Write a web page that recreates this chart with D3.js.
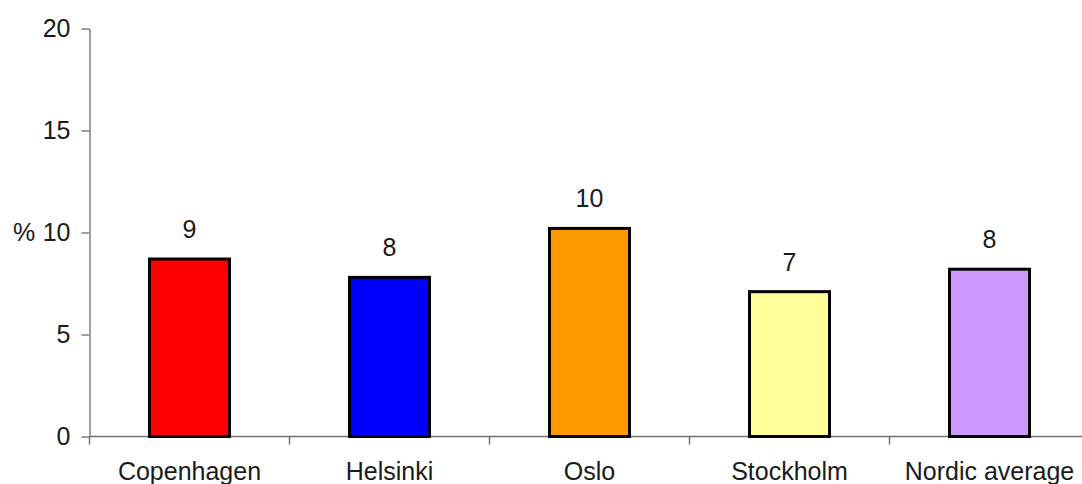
<!DOCTYPE html>
<html>
<head>
<meta charset="utf-8">
<script src="https://cdn.jsdelivr.net/npm/d3@7"></script>
<style>
  body { margin: 0; background: #fff; }
  text { font-family: "Liberation Sans", Arial, sans-serif; fill: #1a1a1a; }
</style>
</head>
<body>
<div id="chart"></div>
<script>
// Share (%) per city, bar chart with rounded value labels

const cities = ["Copenhagen", "Helsinki", "Oslo", "Stockholm", "Nordic average"];
const values = [8.7, 7.8, 10.2, 7.1, 8.2];
const colors = ["#ff0000", "#0000ff", "#ff9900", "#ffff99", "#cc99ff"];
const yTicks = [0, 5, 10, 15, 20];

const W = 1082, H = 484;
const fontSize = "25px";
// plot area edges (window.top is reserved, so keep them in an object)
const plot = { left: 89.5, right: 1089.5, top: 28.5, bottom: 436.5 };

const svg = d3.select("#chart")
    .append("svg")
    .attr("width", W)
    .attr("height", H);

// Scales
const x = d3.scaleBand()
    .domain(cities)
    .range([plot.left, plot.right])
    .paddingInner(0.6)
    .paddingOuter(0.3);

const y = d3.scaleLinear()
    .domain([0, 20])
    .range([plot.bottom, plot.top]);

// Y axis
const yAxis = svg.append("g")
    .attr("transform", `translate(${plot.left},0)`)
    .call(d3.axisLeft(y).tickValues(yTicks).tickSize(8).tickPadding(11).tickSizeOuter(0));

yAxis.select(".domain").attr("stroke", "#808080").attr("stroke-width", 1.5);
yAxis.selectAll(".tick line").attr("stroke", "#808080").attr("stroke-width", 1.5);
yAxis.selectAll(".tick text")
    .style("font-size", fontSize)
    .style("font-family", "'Liberation Sans', Arial, sans-serif")
    .attr("fill", "#1a1a1a");

// "%" title next to the 10 tick
svg.append("text")
    .attr("x", 13)
    .attr("y", y(10))
    .attr("dy", "0.32em")
    .style("font-size", fontSize)
    .text("%");

// X axis line
svg.append("line")
    .attr("x1", plot.left)
    .attr("x2", plot.right)
    .attr("y1", y(0))
    .attr("y2", y(0))
    .attr("stroke", "#707070")
    .attr("stroke-width", 1.5);

// Category boundary ticks
const gap = x.step() - x.bandwidth();
const boundaries = cities.map(c => x(c) - gap / 2)
    .concat([x(cities[cities.length - 1]) + x.bandwidth() + gap / 2]);

svg.append("g")
    .selectAll("line")
    .data(boundaries)
    .enter().append("line")
    .attr("x1", d => d)
    .attr("x2", d => d)
    .attr("y1", y(0))
    .attr("y2", y(0) + 8)
    .attr("stroke", "#707070")
    .attr("stroke-width", 1.5);

// Category labels
svg.append("g")
    .selectAll("text")
    .data(cities)
    .enter().append("text")
    .attr("x", d => x(d) + x.bandwidth() / 2)
    .attr("y", 480)
    .attr("text-anchor", "middle")
    .style("font-size", fontSize)
    .text(d => d);

// Bars
svg.append("g")
    .selectAll("rect")
    .data(values)
    .enter().append("rect")
    .attr("x", (d, i) => x(cities[i]))
    .attr("y", d => y(d))
    .attr("width", x.bandwidth())
    .attr("height", d => y(0) - y(d))
    .attr("fill", (d, i) => colors[i])
    .attr("stroke", "#000")
    .attr("stroke-width", 3);

// Value labels
svg.append("g")
    .selectAll("text")
    .data(values)
    .enter().append("text")
    .attr("x", (d, i) => x(cities[i]) + x.bandwidth() / 2)
    .attr("y", d => y(d) - 21)
    .attr("text-anchor", "middle")
    .style("font-size", fontSize)
    .text(d => d3.format(".0f")(d));
</script>
</body>
</html>
